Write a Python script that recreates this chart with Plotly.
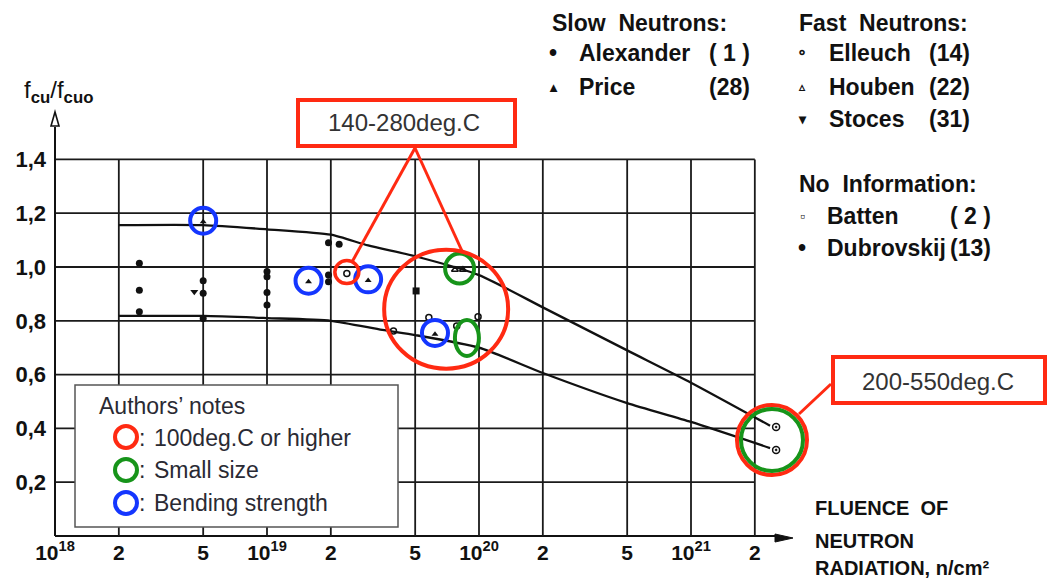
import numpy as np
import plotly.graph_objects as go

# ---------------- data ----------------
alex_x = [2.5e18, 2.5e18, 2.5e18, 5e18, 5e18, 5e18, 1e19, 1e19, 1e19, 1e19, 1.95e19, 2.19e19, 1.95e19, 1.95e19]
alex_y = [1.014, 0.914, 0.834, 0.949, 0.902, 0.809, 0.983, 0.964, 0.905, 0.859, 1.090, 1.085, 0.970, 0.945]
price_x = [5e18, 1.57e19, 3.0e19, 6.2e19]
price_y = [1.168, 0.945, 0.950, 0.750]
stoces_x = [4.54e18]
stoces_y = [0.908]
elleuch_x = [2.38e19, 3.95e19, 5.8e19, 7.85e19, 9.9e19]
elleuch_y = [0.976, 0.762, 0.812, 0.781, 0.815]
houben_x = [7.7e19, 8.4e19]
houben_y = [0.990, 0.990]
batten_x = [5.05e19]
batten_y = [0.911]
dubr_x = [2.52e21, 2.52e21]
dubr_y = [0.405, 0.320]

upper_x = [2e18, 5e18, 1e19, 2e19, 3e19, 5e19, 1e20, 2e20, 5e20, 1e21, 2.36e21]
upper_y = [1.156, 1.156, 1.140, 1.120, 1.080, 1.040, 0.970, 0.850, 0.690, 0.570, 0.410]
lower_x = [2e18, 5e18, 1e19, 2e19, 3.5e19, 5e19, 1e20, 2e20, 5e20, 1e21, 2.36e21]
lower_y = [0.818, 0.818, 0.810, 0.800, 0.766, 0.747, 0.700, 0.606, 0.494, 0.424, 0.327]

x_grid = [1e18, 2e18, 5e18, 1e19, 2e19, 5e19, 1e20, 2e20, 5e20, 1e21, 2e21]
x_ticktext = ['10<sup>18</sup>', '2', '5', '10<sup>19</sup>', '2', '5',
              '10<sup>20</sup>', '2', '5', '10<sup>21</sup>', '2']
y_grid = [0.2, 0.4, 0.6, 0.8, 1.0, 1.2, 1.4]
y_ticktext = ['0,2', '0,4', '0,6', '0,8', '1,0', '1,2', '1,4']

# highlighted groups (authors' notes): centre x, centre y
blue_x = [5e18, 1.57e19, 3.0e19, 6.2e19]
blue_y = [1.172, 0.949, 0.954, 0.755]
red_small_x = [2.38e19]
red_small_y = [0.981]
green_x = [8.1e19]
green_y = [0.994]
green_oval_x = [8.77e19]
green_oval_y = [0.736]
red_big_x = [7.0e19]
red_big_y = [0.843]
end_x = [2.41e21]
end_y = [0.357]

RED = '#FF2A12'
GREEN = '#17941A'
BLUE = '#1436FF'
FONT = 'Liberation Sans, Arial, Helvetica, sans-serif'

# ---------------- geometry ----------------
W, H = 1048, 581
ML, MR, MT, MB = 52, 218, 105, 43
PW, PH = W - ML - MR, H - MT - MB
DEC = 212.0   # pixels per decade on x
UNIT = 269.0  # pixels per unit on y


def px(x):
    return (x - ML) / PW


def py(y):
    return (H - MB - y) / PH


fig = go.Figure()

# curves
for cx, cy in [(upper_x, upper_y), (lower_x, lower_y)]:
    fig.add_trace(go.Scatter(x=cx, y=cy, mode='lines',
                             line=dict(color='#111', width=2.3, shape='spline', smoothing=0.6),
                             hoverinfo='skip', showlegend=False))

mk = dict(color='#111')
ol = dict(width=1.5, color='#111')
fig.add_trace(go.Scatter(x=alex_x, y=alex_y, mode='markers', marker=dict(symbol='circle', size=7, **mk), name='Alexander'))
fig.add_trace(go.Scatter(x=price_x, y=price_y, mode='markers', marker=dict(symbol='triangle-up', size=6, **mk), name='Price'))
fig.add_trace(go.Scatter(x=stoces_x, y=stoces_y, mode='markers', marker=dict(symbol='triangle-down', size=7, **mk), name='Stoces'))
fig.add_trace(go.Scatter(x=elleuch_x, y=elleuch_y, mode='markers', marker=dict(symbol='circle-open', size=6, line=ol, **mk), name='Elleuch'))
fig.add_trace(go.Scatter(x=houben_x, y=houben_y, mode='markers', marker=dict(symbol='triangle-up-open', size=6, line=ol, **mk), name='Houben'))
fig.add_trace(go.Scatter(x=batten_x, y=batten_y, mode='markers', marker=dict(symbol='square', size=7, **mk), name='Batten'))
fig.add_trace(go.Scatter(x=dubr_x, y=dubr_y, mode='markers', marker=dict(symbol='circle-open-dot', size=7, line=ol, **mk), name='Dubrovskij'))

shapes = []
# grid
for v in x_grid[1:]:
    shapes.append(dict(type='line', xref='x', yref='y', x0=v, x1=v, y0=0, y1=1.4, layer='below',
                       line=dict(color='#1a1a1a', width=1.8)))
for v in y_grid:
    shapes.append(dict(type='line', xref='x', yref='y', x0=x_grid[0], x1=x_grid[-1], y0=v, y1=v, layer='below',
                       line=dict(color='#1a1a1a', width=1.8)))
# axes
shapes.append(dict(type='line', xref='x', yref='y', x0=x_grid[0], x1=x_grid[0], y0=0, y1=1.52, layer='below',
                   line=dict(color='#111', width=2)))
shapes.append(dict(type='line', xref='paper', yref='y', x0=px(ML + 3), x1=px(780), y0=0, y1=0, layer='below',
                   line=dict(color='#111', width=2)))
# y arrow head (open)
shapes.append(dict(type='path', xref='paper', yref='paper',
                   path=f'M {px(55)},{py(112)} L {px(51)},{py(126)} L {px(59)},{py(126)} Z',
                   line=dict(color='#111', width=1.6), fillcolor='white', layer='above'))
# x arrow head (filled)
shapes.append(dict(type='path', xref='paper', yref='paper',
                   path=f'M {px(793)},{py(538)} L {px(775)},{py(534)} L {px(775)},{py(542)} Z',
                   line=dict(color='#111', width=1), fillcolor='#111', layer='above'))


def ring(x, y, w, h, color, lw):
    f = 10 ** (w / 2 / DEC)
    dy = h / 2 / UNIT
    return dict(type='circle', xref='x', yref='y', x0=x / f, x1=x * f, y0=y - dy, y1=y + dy,
                line=dict(color=color, width=lw), layer='above')


for x, y in zip(blue_x, blue_y):
    shapes.append(ring(x, y, 26, 26, BLUE, 4))
for x, y in zip(red_small_x, red_small_y):
    shapes.append(ring(x, y, 24, 23, RED, 3.5))
for x, y in zip(green_x, green_y):
    shapes.append(ring(x, y, 29, 30, GREEN, 4))
for x, y in zip(green_oval_x, green_oval_y):
    shapes.append(ring(x, y, 24, 36, GREEN, 4))
for x, y in zip(red_big_x, red_big_y):
    shapes.append(ring(x, y, 124, 119, RED, 4))
for x, y in zip(end_x, end_y):
    shapes.append(ring(x, y, 70, 70, RED, 4))
    shapes.append(ring(x, y, 62, 62, GREEN, 4))

# callout boxes and lines
shapes.append(dict(type='rect', xref='paper', yref='paper', x0=px(298), x1=px(515), y0=py(100), y1=py(146),
                   line=dict(color=RED, width=4), fillcolor='white', layer='above'))
shapes.append(dict(type='line', xref='paper', yref='paper', x0=px(415), y0=py(148), x1=px(352), y1=py(262),
                   line=dict(color=RED, width=3), layer='above'))
shapes.append(dict(type='line', xref='paper', yref='paper', x0=px(415), y0=py(148), x1=px(462), y1=py(251),
                   line=dict(color=RED, width=3), layer='above'))
shapes.append(dict(type='rect', xref='paper', yref='paper', x0=px(833), x1=px(1045), y0=py(357), y1=py(403),
                   line=dict(color=RED, width=4), fillcolor='white', layer='above'))
shapes.append(dict(type='line', xref='paper', yref='paper', x0=px(831), y0=py(384), x1=px(799), y1=py(414),
                   line=dict(color=RED, width=3), layer='above'))

# authors' notes box
shapes.append(dict(type='rect', xref='paper', yref='paper', x0=px(75), x1=px(398), y0=py(385), y1=py(527),
                   line=dict(color='#555', width=1.5), fillcolor='white', layer='above'))
for yy, col in [(437, RED), (470, GREEN), (503, BLUE)]:
    shapes.append(dict(type='circle', xref='paper', yref='paper', x0=px(115), x1=px(137), y0=py(yy - 11), y1=py(yy + 11),
                       line=dict(color=col, width=4), layer='above'))

ann = []


def txt(x, y, s, size=23, anchor='left', color='#111', bold=True, family=FONT):
    ann.append(dict(xref='paper', yref='paper', x=px(x), y=py(y), text=(f'<b>{s}</b>' if bold else s),
                    showarrow=False, xanchor=anchor, yanchor='middle',
                    font=dict(family=family, size=size, color=color)))


# top-right legend
txt(550, 23, 'Slow  Neutrons:')
txt(553, 53, '•', anchor='center')
txt(577, 53, 'Alexander')
txt(752, 53, '( 1 )', anchor='right')
txt(553, 87, '▴', size=14, anchor='center')
txt(577, 87, 'Price')
txt(752, 87, '(28)', anchor='right')
txt(797, 23, 'Fast  Neutrons:')
txt(802, 53, '∘', size=16, anchor='center')
txt(827, 53, 'Elleuch')
txt(972, 53, '(14)', anchor='right')
txt(802, 87, '▵', size=12, anchor='center')
txt(827, 87, 'Houben')
txt(972, 87, '(22)', anchor='right')
txt(802, 119, '▾', size=14, anchor='center')
txt(827, 119, 'Stoces')
txt(972, 119, '(31)', anchor='right')
txt(797, 184, 'No  Information:')
txt(802, 216, '▫', size=14, anchor='center')
txt(825, 216, 'Batten')
txt(993, 216, '( 2 )', anchor='right')
txt(802, 248, '•', anchor='center')
txt(825, 248, 'Dubrovskij')
txt(993, 248, '(13)', anchor='right')

# axis titles
txt(22, 91, 'f<sub><b>cu</b></sub>/f<sub><b>cuo</b></sub>', size=24, bold=False)
txt(813, 508, 'FLUENCE  OF', size=20)
txt(813, 541, 'NEUTRON', size=20)
txt(813, 568, 'RADIATION, n/cm²', size=20)

# callout texts
txt(404, 123, '140-280deg.C', size=24, anchor='center', color='#333', bold=False)
txt(938, 381, '200-550deg.C', size=24, anchor='center', color='#333', bold=False)

# authors' notes
txt(97, 406, 'Authors’ notes', size=23, color='#2a2a33', bold=False)
for yy, s in [(438, '100deg.C or higher'), (470, 'Small size'), (503, 'Bending strength')]:
    txt(137, yy, ':', size=23, color='#2a2a33', bold=False)
    txt(152, yy, s, size=23, color='#2a2a33', bold=False)

x_lo = 18 - 3 / DEC
x_hi = x_lo + PW / DEC
y_lo = -2 / UNIT
y_hi = y_lo + PH / UNIT

fig.update_layout(
    width=W, height=H, margin=dict(l=ML, r=MR, t=MT, b=MB, autoexpand=False),
    paper_bgcolor='white', plot_bgcolor='white', showlegend=False,
    xaxis=dict(type='log', range=[x_lo, x_hi], showgrid=False, zeroline=False, showline=False,
               tickvals=x_grid, ticktext=x_ticktext, ticks='', automargin=False,
               tickfont=dict(family=FONT, size=21, color='#111', weight='bold')),
    yaxis=dict(range=[y_lo, y_hi], showgrid=False, zeroline=False, showline=False,
               tickvals=y_grid, ticktext=y_ticktext, ticks='', automargin=False,
               ticklabelstandoff=5,
               tickfont=dict(family=FONT, size=22, color='#111', weight='bold')),
    shapes=shapes, annotations=ann,
)

fig.write_html('out.html', config={'displayModeBar': False},
               post_script="document.body.style.margin='0';document.body.style.padding='0';")
